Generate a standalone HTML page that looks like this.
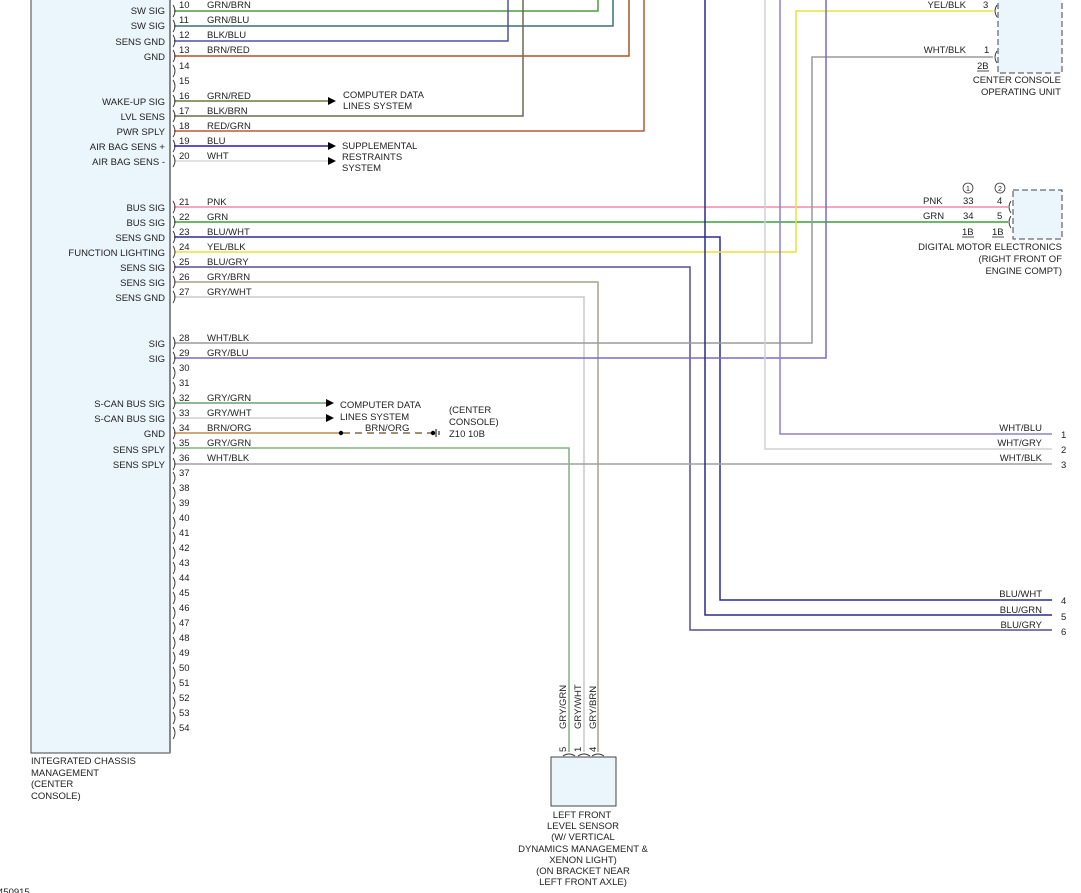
<!DOCTYPE html>
<html><head><meta charset="utf-8"><style>
html,body{margin:0;padding:0;background:#fff;}
svg{display:block;}
text{font-family:"Liberation Sans",sans-serif;font-size:9.5px;fill:#222;}
.r{text-anchor:end;}
.m{text-anchor:middle;}
</style></head><body>
<svg width="1081" height="893" viewBox="0 0 1081 893" xmlns="http://www.w3.org/2000/svg">
<!-- ICM box -->
<rect x="31" y="-5" width="139" height="758" fill="#eaf5fc" stroke="#444" stroke-width="1"/>
<line x1="170" y1="-5" x2="170" y2="753" stroke="#888" stroke-width="2"/>

<g fill="none" stroke-width="1.5">
<!-- top wires -->
<polyline points="174,11 598,11 598,-2" stroke="#4e9a3a"/>
<polyline points="174,26 613,26 613,-2" stroke="#3f6f78"/>
<polyline points="174,41 508,41 508,-2" stroke="#5050a0"/>
<polyline points="174,56 629,56 629,-2" stroke="#b0502c"/>
<line x1="174" y1="101" x2="330" y2="101" stroke="#6b7a3a"/>
<polyline points="174,116 523,116 523,-2" stroke="#6e6a55"/>
<polyline points="174,131 644,131 644,-2" stroke="#b8583c"/>
<line x1="174" y1="146" x2="330" y2="146" stroke="#2a18b8"/>
<line x1="174" y1="161" x2="330" y2="161" stroke="#d8d8d8"/>
<!-- 21-27 -->
<line x1="174" y1="207" x2="1008" y2="207" stroke="#f08aa8"/>
<line x1="174" y1="222" x2="1008" y2="222" stroke="#3aa03a"/>
<polyline points="174,237 720,237 720,600 1052,600" stroke="#2e2a90"/>
<polyline points="174,252 796,252 796,11 993,11" stroke="#e4e43c"/>
<polyline points="174,267 690,267 690,630 1052,630" stroke="#5a4a9a"/>
<polyline points="174,282 598,282 598,752" stroke="#a8a088"/>
<polyline points="174,297 584,297 584,752" stroke="#c8c8c8"/>
<!-- 28,29 -->
<polyline points="174,343 812,343 812,57 993,57" stroke="#9a9a9a"/>
<polyline points="174,358 826,358 826,-2" stroke="#7a6ac8"/>
<!-- 32-36 -->
<line x1="174" y1="403" x2="328" y2="403" stroke="#6aa070"/>
<line x1="174" y1="418" x2="328" y2="418" stroke="#cfcfcf"/>
<line x1="174" y1="433" x2="340" y2="433" stroke="#c08a4a"/>
<line x1="343" y1="433" x2="432" y2="433" stroke="#806a40" stroke-dasharray="7,5"/>
<polyline points="174,448 569,448 569,752" stroke="#80b080"/>
<line x1="174" y1="464" x2="1052" y2="464" stroke="#a0a0a0"/>
<!-- right verticals -->
<polyline points="705,-2 705,615 1052,615" stroke="#2a2a8a"/>
<polyline points="765,-2 765,449 1052,449" stroke="#d0d0d0"/>
<polyline points="780,-2 780,434 1052,434" stroke="#8a80d0"/>
</g>

<!-- arrows -->
<g fill="#000">
<polygon points="328,97 336,101 328,105"/>
<polygon points="328,142 336,146 328,150"/>
<polygon points="328,157 336,161 328,165"/>
<polygon points="326,399 334,403 326,407"/>
<polygon points="326,414 334,418 326,422"/>
<circle cx="341" cy="433" r="2.2"/>
<circle cx="433" cy="433" r="2.2"/>
</g>
<line x1="436" y1="429" x2="436" y2="437" stroke="#000" stroke-width="1"/>
<line x1="439" y1="431" x2="439" y2="435" stroke="#000" stroke-width="1"/>

<!-- pin brackets -->
<g fill="none" stroke="#333" stroke-width="0.9">
<path d="M173,5 q4,6 0,12"/><path d="M173,20 q4,6 0,12"/><path d="M173,35 q4,6 0,12"/><path d="M173,50 q4,6 0,12"/><path d="M173,65 q4,6 0,12"/><path d="M173,80 q4,6 0,12"/><path d="M173,95 q4,6 0,12"/><path d="M173,110 q4,6 0,12"/><path d="M173,125 q4,6 0,12"/><path d="M173,140 q4,6 0,12"/><path d="M173,155 q4,6 0,12"/>
<path d="M173,201 q4,6 0,12"/><path d="M173,216 q4,6 0,12"/><path d="M173,231 q4,6 0,12"/><path d="M173,246 q4,6 0,12"/><path d="M173,261 q4,6 0,12"/><path d="M173,276 q4,6 0,12"/><path d="M173,291 q4,6 0,12"/>
<path d="M173,337 q4,6 0,12"/><path d="M173,352 q4,6 0,12"/><path d="M173,367 q4,6 0,12"/><path d="M173,382 q4,6 0,12"/><path d="M173,397 q4,6 0,12"/><path d="M173,412 q4,6 0,12"/><path d="M173,427 q4,6 0,12"/><path d="M173,442 q4,6 0,12"/><path d="M173,458 q4,6 0,12"/>
<path d="M173,472 q4,6 0,12"/><path d="M173,487 q4,6 0,12"/><path d="M173,502 q4,6 0,12"/><path d="M173,517 q4,6 0,12"/><path d="M173,532 q4,6 0,12"/><path d="M173,547 q4,6 0,12"/><path d="M173,562 q4,6 0,12"/><path d="M173,577 q4,6 0,12"/><path d="M173,592 q4,6 0,12"/><path d="M173,607 q4,6 0,12"/><path d="M173,622 q4,6 0,12"/><path d="M173,637 q4,6 0,12"/><path d="M173,652 q4,6 0,12"/><path d="M173,667 q4,6 0,12"/><path d="M173,682 q4,6 0,12"/><path d="M173,697 q4,6 0,12"/><path d="M173,712 q4,6 0,12"/><path d="M173,727 q4,6 0,12"/>
<!-- console unit pins -->
<path d="M997,5 q-4,6 0,12"/><path d="M997,51 q-4,6 0,12"/>
<path d="M1011,201 q-4,6 0,12"/><path d="M1011,216 q-4,6 0,12"/>
<!-- sensor pins -->
<path d="M563,756 q6,-4 12,0"/><path d="M578,756 q6,-4 12,0"/><path d="M592,756 q6,-4 12,0"/>
</g>

<!-- pin numbers -->
<g>
<text x="179" y="8">10</text><text x="179" y="23">11</text><text x="179" y="38">12</text><text x="179" y="53">13</text><text x="179" y="69">14</text><text x="179" y="84">15</text><text x="179" y="99">16</text><text x="179" y="114">17</text><text x="179" y="129">18</text><text x="179" y="144">19</text><text x="179" y="159">20</text>
<text x="179" y="205">21</text><text x="179" y="220">22</text><text x="179" y="235">23</text><text x="179" y="250">24</text><text x="179" y="265">25</text><text x="179" y="280">26</text><text x="179" y="295">27</text>
<text x="179" y="341">28</text><text x="179" y="356">29</text><text x="179" y="371">30</text><text x="179" y="386">31</text><text x="179" y="401">32</text><text x="179" y="416">33</text><text x="179" y="431">34</text><text x="179" y="446">35</text><text x="179" y="461">36</text>
<text x="179" y="476">37</text><text x="179" y="491">38</text><text x="179" y="506">39</text><text x="179" y="521">40</text><text x="179" y="536">41</text><text x="179" y="551">42</text><text x="179" y="566">43</text><text x="179" y="581">44</text><text x="179" y="596">45</text><text x="179" y="611">46</text><text x="179" y="626">47</text><text x="179" y="641">48</text><text x="179" y="656">49</text><text x="179" y="671">50</text><text x="179" y="686">51</text><text x="179" y="701">52</text><text x="179" y="716">53</text><text x="179" y="731">54</text>
</g>

<!-- wire labels -->
<g>
<text x="207" y="8">GRN/BRN</text><text x="207" y="23">GRN/BLU</text><text x="207" y="38">BLK/BLU</text><text x="207" y="53">BRN/RED</text>
<text x="207" y="99">GRN/RED</text><text x="207" y="114">BLK/BRN</text><text x="207" y="129">RED/GRN</text><text x="207" y="144">BLU</text><text x="207" y="159">WHT</text>
<text x="207" y="205">PNK</text><text x="207" y="220">GRN</text><text x="207" y="235">BLU/WHT</text><text x="207" y="250">YEL/BLK</text><text x="207" y="265">BLU/GRY</text><text x="207" y="280">GRY/BRN</text><text x="207" y="295">GRY/WHT</text>
<text x="207" y="341">WHT/BLK</text><text x="207" y="356">GRY/BLU</text>
<text x="207" y="401">GRY/GRN</text><text x="207" y="416">GRY/WHT</text><text x="207" y="431">BRN/ORG</text><text x="207" y="446">GRY/GRN</text><text x="207" y="461">WHT/BLK</text>
</g>

<!-- left pin function labels -->
<g class="r">
<text class="r" x="165" y="14">SW SIG</text><text class="r" x="165" y="29">SW SIG</text><text class="r" x="165" y="45">SENS GND</text><text class="r" x="165" y="60">GND</text>
<text class="r" x="165" y="105">WAKE-UP SIG</text><text class="r" x="165" y="120">LVL SENS</text><text class="r" x="165" y="135">PWR SPLY</text><text class="r" x="165" y="150">AIR BAG SENS +</text><text class="r" x="165" y="165">AIR BAG SENS -</text>
<text class="r" x="165" y="211">BUS SIG</text><text class="r" x="165" y="226">BUS SIG</text><text class="r" x="165" y="241">SENS GND</text><text class="r" x="165" y="256">FUNCTION LIGHTING</text><text class="r" x="165" y="271">SENS SIG</text><text class="r" x="165" y="286">SENS SIG</text><text class="r" x="165" y="301">SENS GND</text>
<text class="r" x="165" y="347">SIG</text><text class="r" x="165" y="362">SIG</text>
<text class="r" x="165" y="407">S-CAN BUS SIG</text><text class="r" x="165" y="422">S-CAN BUS SIG</text><text class="r" x="165" y="437">GND</text><text class="r" x="165" y="453">SENS SPLY</text><text class="r" x="165" y="468">SENS SPLY</text>
</g>

<!-- destination text -->
<text x="343" y="98">COMPUTER DATA</text><text x="343" y="109">LINES SYSTEM</text>
<text x="342" y="149">SUPPLEMENTAL</text><text x="342" y="160">RESTRAINTS</text><text x="342" y="171">SYSTEM</text>
<text x="340" y="408">COMPUTER DATA</text><text x="340" y="420">LINES SYSTEM</text>
<text x="365" y="431">BRN/ORG</text>
<text x="449" y="413">(CENTER</text><text x="449" y="425">CONSOLE)</text><text x="449" y="437">Z10 10B</text>

<text x="31" y="764">INTEGRATED CHASSIS</text><text x="31" y="776">MANAGEMENT</text><text x="31" y="787">(CENTER</text><text x="31" y="799">CONSOLE)</text>
<text x="-2" y="895">450915</text>

<!-- center console operating unit -->
<rect x="998" y="-5" width="64" height="78" fill="#eaf5fc" stroke="#444" stroke-dasharray="6,3"/>
<text class="r" x="966" y="8">YEL/BLK</text><text x="983" y="8">3</text>
<text class="r" x="966" y="53">WHT/BLK</text><text x="984" y="53">1</text>
<text x="977" y="69">2B</text><line x1="977" y1="71" x2="989" y2="71" stroke="#222" stroke-width="0.8"/>
<text class="r" x="1061" y="83">CENTER CONSOLE</text><text class="r" x="1061" y="95">OPERATING UNIT</text>

<!-- DME -->
<rect x="1013" y="190" width="49" height="49" fill="#eaf5fc" stroke="#444" stroke-dasharray="6,3"/>
<circle cx="968" cy="188" r="5" fill="none" stroke="#333" stroke-width="0.8"/><text class="m" x="968" y="191" style="font-size:7px">1</text>
<circle cx="1000" cy="188" r="5" fill="none" stroke="#333" stroke-width="0.8"/><text class="m" x="1000" y="191" style="font-size:7px">2</text>
<text x="923" y="204">PNK</text><text x="963" y="204">33</text><text x="997" y="204">4</text>
<text x="923" y="219">GRN</text><text x="963" y="219">34</text><text x="997" y="219">5</text>
<text x="962" y="235">1B</text><line x1="962" y1="237" x2="974" y2="237" stroke="#222" stroke-width="0.8"/>
<text x="992" y="235">1B</text><line x1="992" y1="237" x2="1004" y2="237" stroke="#222" stroke-width="0.8"/>
<text class="r" x="1062" y="250">DIGITAL MOTOR ELECTRONICS</text><text class="r" x="1062" y="262">(RIGHT FRONT OF</text><text class="r" x="1062" y="274">ENGINE COMPT)</text>

<!-- right harness labels -->
<text class="r" x="1042" y="431">WHT/BLU</text><text x="1061" y="438">1</text>
<text class="r" x="1042" y="446">WHT/GRY</text><text x="1061" y="453">2</text>
<text class="r" x="1042" y="461">WHT/BLK</text><text x="1061" y="468">3</text>
<text class="r" x="1042" y="597">BLU/WHT</text><text x="1061" y="604">4</text>
<text class="r" x="1042" y="613">BLU/GRN</text><text x="1061" y="620">5</text>
<text class="r" x="1042" y="628">BLU/GRY</text><text x="1061" y="635">6</text>

<!-- left front level sensor -->
<rect x="551" y="757" width="65" height="49" fill="#eaf5fc" stroke="#444"/>
<text transform="translate(566,752) rotate(-90)">5</text>
<text transform="translate(581,752) rotate(-90)">1</text>
<text transform="translate(596,752) rotate(-90)">4</text>
<text transform="translate(566,729) rotate(-90)">GRY/GRN</text>
<text transform="translate(581,729) rotate(-90)">GRY/WHT</text>
<text transform="translate(596,729) rotate(-90)">GRY/BRN</text>
<text class="m" x="582" y="818">LEFT FRONT</text>
<text class="m" x="583" y="829">LEVEL SENSOR</text>
<text class="m" x="583" y="840">(W/ VERTICAL</text>
<text class="m" x="583" y="852">DYNAMICS MANAGEMENT &amp;</text>
<text class="m" x="583" y="863">XENON LIGHT)</text>
<text class="m" x="583" y="874">(ON BRACKET NEAR</text>
<text class="m" x="583" y="885">LEFT FRONT AXLE)</text>
</svg>
</body></html>
